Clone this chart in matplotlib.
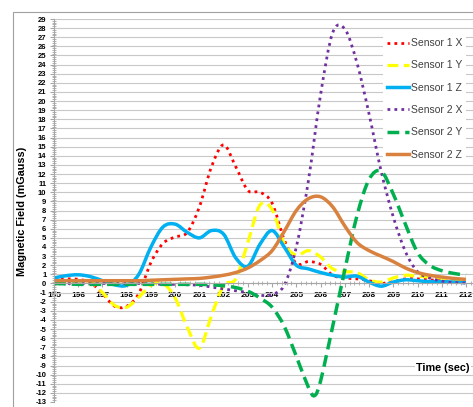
import matplotlib
matplotlib.use("Agg")
import matplotlib.pyplot as plt
from matplotlib.path import Path
from matplotlib.patches import PathPatch, Rectangle
from matplotlib.lines import Line2D
from matplotlib.ticker import MultipleLocator

plt.rcParams['font.family'] = ['Liberation Sans', 'DejaVu Sans']
plt.rcParams['axes.unicode_minus'] = False

# --- data (time in sec, field in mGauss) ---
time = [195, 195.5, 196, 196.5, 197, 197.5, 198, 198.5, 199, 199.5,
        200, 200.5, 201, 201.5, 202, 202.5, 203, 203.5, 204, 204.5,
        205, 205.5, 206, 206.5, 207, 207.5, 208, 208.5, 209, 209.5,
        210, 210.5, 211, 211.5, 212]

s1_x = [0.4, 0.5, 0.45, 0.1, -1.1, -2.5, -2.5, -1.1, 2.3, 4.4,
        5.1, 5.6, 8.4, 12.8, 15.2, 12.8, 10.2, 10.0, 8.8, 4.8,
        2.2, 2.4, 2.1, 0.9, 0.6, 0.5, 0.3, 0.0, 0.2, 0.5,
        0.5, 0.4, 0.3, 0.2, 0.15]

s1_y = [0.2, 0.3, 0.3, 0.2, -1.0, -2.4, -2.6, -1.5, -0.2, 0.0,
        -1.6, -4.8, -7.1, -3.5, -0.2, 0.5, 4.5, 8.6, 8.1, 4.4,
        3.1, 3.6, 2.9, 1.6, 1.3, 1.2, 0.4, 0.15, 0.6, 0.9,
        0.8, 0.7, 0.6, 0.4, 0.3]

s1_z = [0.6, 0.85, 0.95, 0.75, 0.3, -0.15, -0.2, 1.0, 4.0, 6.2,
        6.5, 5.6, 5.0, 5.8, 5.4, 2.8, 1.9, 4.3, 5.8, 4.0,
        2.0, 1.6, 1.2, 0.9, 0.7, 0.8, 0.15, -0.3, 0.15, 0.4,
        0.3, 0.2, 0.2, 0.15, 0.1]

s2_x = [0.0, 0.0, 0.0, 0.0, 0.0, 0.0, 0.0, 0.0, -0.05, -0.1,
        -0.1, -0.15, -0.2, -0.4, -0.6, -0.8, -1.0, -1.3, -1.2, -0.2,
        4.0, 11.3, 20.7, 27.5, 27.9, 24.2, 18.6, 12.3, 7.3, 3.5,
        1.3, 0.6, 0.25, 0.1, 0.05]

s2_y_time = [195, 195.5, 196, 196.5, 197, 197.5, 198, 198.5, 199, 199.5,
             200, 200.5, 201, 201.5, 202, 202.5, 203, 203.5, 204, 204.5,
             205, 205.5, 205.75, 206, 206.5, 207, 207.5, 208, 208.5, 209,
             209.5, 210, 210.5, 211, 211.5, 212]
s2_y = [0.0, -0.05, -0.1, -0.1, -0.1, -0.1, -0.1, -0.1, -0.1, -0.1,
        -0.1, -0.1, -0.1, -0.15, -0.25, -0.45, -0.85, -1.6, -2.6, -4.7,
        -8.0, -11.4, -12.3, -10.7, -4.7, 1.5, 7.4, 11.4, 12.3, 9.8,
        6.5, 3.4, 2.0, 1.4, 1.1, 0.9]

s2_z = [0.3, 0.3, 0.3, 0.3, 0.3, 0.3, 0.3, 0.3, 0.35, 0.4,
        0.45, 0.5, 0.55, 0.7, 0.9, 1.2, 1.7, 2.5, 3.6, 5.7,
        8.0, 9.3, 9.5, 8.4, 6.3, 4.5, 3.6, 3.0, 2.4, 1.7,
        1.2, 0.9, 0.7, 0.55, 0.45]

series = [
    ("Sensor 1 X", time, s1_x, "#FF0000", 2.0, (0, (1, 1.5))),
    ("Sensor 1 Y", time, s1_y, "#FFFF00", 2.3, (0, (3.4, 1.7))),
    ("Sensor 1 Z", time, s1_z, "#00B0F0", 2.5, "-"),
    ("Sensor 2 X", time, s2_x, "#7030A0", 2.0, (0, (1, 1.5))),
    ("Sensor 2 Y", s2_y_time, s2_y, "#00B050", 2.5, (0, (3.4, 1.7))),
    ("Sensor 2 Z", time, s2_z, "#D9823F", 2.5, "-"),
]


def smooth_path(x, y):
    # Excel-like smoothed line: Catmull-Rom segments as cubic Beziers
    n = len(x)
    verts = [(x[0], y[0])]
    codes = [Path.MOVETO]
    for i in range(n - 1):
        xa, ya = (x[i - 1], y[i - 1]) if i > 0 else (x[i], y[i])
        xd, yd = (x[i + 2], y[i + 2]) if i + 2 < n else (x[i + 1], y[i + 1])
        c1 = (x[i] + (x[i + 1] - xa) / 6, y[i] + (y[i + 1] - ya) / 6)
        c2 = (x[i + 1] - (xd - x[i]) / 6, y[i + 1] - (yd - y[i]) / 6)
        verts += [c1, c2, (x[i + 1], y[i + 1])]
        codes += [Path.CURVE4] * 3
    return Path(verts, codes)


fig = plt.figure(figsize=(4.73, 4.07), dpi=100)
ax = fig.add_axes([54 / 473, 1 - 402 / 407, 1 - 54 / 473, (402 - 19) / 407])

ax.set_xlim(195, 212.29)
ax.set_ylim(-13, 29)

ax.xaxis.set_major_locator(MultipleLocator(1))
ax.xaxis.set_minor_locator(MultipleLocator(0.2))
ax.yaxis.set_major_locator(MultipleLocator(1))
ax.yaxis.set_minor_locator(MultipleLocator(0.2))
ax.set_xticks(range(195, 213))

ax.grid(axis='y', which='major', color='#C8C8C8', linewidth=0.8)
ax.set_axisbelow(True)

for side in ['top', 'right']:
    ax.spines[side].set_visible(False)
ax.spines['bottom'].set_position(('data', 0))
ax.spines['bottom'].set_color('#A6A6A6')
ax.spines['left'].set_color('#A6A6A6')

ax.tick_params(axis='x', which='major', direction='out', length=3, color='#A6A6A6',
               pad=3.5, labelsize=6)
ax.tick_params(axis='y', which='major', direction='out', length=3, color='#A6A6A6',
               pad=2.5, labelsize=5.5)
ax.tick_params(which='minor', direction='inout', length=2.5, width=0.6, color='#A6A6A6')
for lab in ax.get_xticklabels() + ax.get_yticklabels():
    lab.set_fontweight('bold')

handles = []
for name, tx, vals, color, lw, ls in series:
    patch = PathPatch(smooth_path(tx, vals), fill=False, edgecolor=color,
                      linewidth=lw, linestyle=ls, capstyle='butt')
    ax.add_patch(patch)
    handles.append(Line2D([], [], color=color, linewidth=lw, linestyle=ls,
                          label=name))

leg = fig.legend(handles=handles, loc='upper left',
                 bbox_to_anchor=(383 / 473, 1 - 34 / 407), frameon=True,
                 fontsize=7.5, handlelength=2.1, handletextpad=0.15,
                 labelspacing=1.18, borderpad=0.4, borderaxespad=0,
                 fancybox=False, edgecolor='none', facecolor='white', framealpha=1)
for t in leg.get_texts():
    t.set_color('#404040')

fig.text(22 / 473, 1 - 211 / 407, "Magnetic Field (mGauss)", rotation=90,
         ha='center', va='center', fontsize=7.8, fontweight='bold')
fig.text(416 / 473, 1 - 368 / 407, "Time (sec)", ha='left', va='center',
         fontsize=7.8, fontweight='bold',
         bbox=dict(facecolor='white', edgecolor='none', pad=1))

# outer chart-area border (left and top edges visible)
fig.patches.append(Rectangle((13 / 473, -0.1), 1.2, 1.1 - 12 / 407, fill=False,
                             edgecolor='#A0A0A0', linewidth=0.8,
                             transform=fig.transFigure))

fig.savefig("out.png", dpi=100)
